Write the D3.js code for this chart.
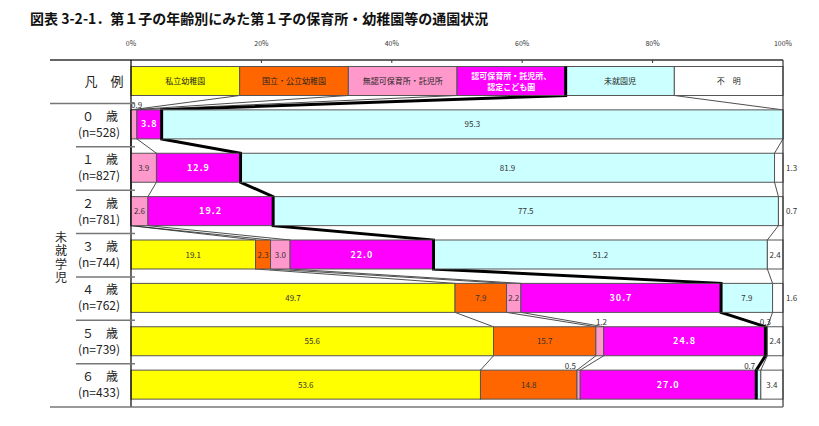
<!DOCTYPE html>
<html>
<head>
<meta charset="utf-8">
<script src="https://cdn.jsdelivr.net/npm/d3@7"></script>
<style>
  body { margin: 0; background: #fff; }
  text { font-family: "Noto Sans CJK JP", "Noto Sans", sans-serif; }
</style>
</head>
<body>
<svg id="chart" width="819" height="426"></svg>
<script>
// categories (legend order)
var categories = ["私立幼稚園", "国立・公立幼稚園", "無認可保育所・託児所", "認可保育所・託児所、認定こども園", "未就園児", "不明"];
var legendLines = [["私立幼稚園"], ["国立・公立幼稚園"], ["無認可保育所・託児所"], ["認可保育所・託児所、", "認定こども園"], ["未就園児"], ["不　明"]];
var colors = ["#ffff00", "#ff6600", "#ff99cc", "#ff00ff", "#ccffff", "#ffffff"];

// rows
var ages = ["０", "１", "２", "３", "４", "５", "６"];
var counts = [528, 827, 781, 744, 762, 739, 433];

// percentages per row, in category order
var pct0 = [0, 0, 0.9, 3.8, 95.3, 0];
var pct1 = [0, 0, 3.9, 12.9, 81.9, 1.3];
var pct2 = [0, 0, 2.6, 19.2, 77.5, 0.7];
var pct3 = [19.1, 2.3, 3.0, 22.0, 51.2, 2.4];
var pct4 = [49.7, 7.9, 2.2, 30.7, 7.9, 1.6];
var pct5 = [55.6, 15.7, 1.2, 24.8, 0.3, 2.4];
var pct6 = [53.6, 14.8, 0.5, 27.0, 0.7, 3.4];
var allPct = [pct0, pct1, pct2, pct3, pct4, pct5, pct6];

var ticks = [0, 20, 40, 60, 80, 100];

var svg = d3.select("#chart");

var x = d3.scaleLinear().domain([0, 100]).range([131, 783]);
var rowKeys = ["legend"].concat(ages);
var y = d3.scaleBand().domain(rowKeys).range([60, 407]).padding(0);
var barOff = 6.5, barH = 29;

// title
svg.append("text")
  .attr("x", 30).attr("y", 24)
  .style("font-size", "14px").style("font-weight", "bold").style("fill", "#111")
  .text("図表 3-2-1．第１子の年齢別にみた第１子の保育所・幼稚園等の通園状況");

// top tick labels
svg.selectAll("text.tick").data(ticks).enter().append("text")
  .attr("class", "tick")
  .attr("x", function(d) { return x(d); })
  .attr("y", 46)
  .attr("text-anchor", "middle")
  .style("font-size", "7px").style("fill", "#333")
  .text(function(d) { return d + "%"; });

// build segments with cumulative positions
function segs(vals) {
  var c = 0;
  return vals.map(function(v, i) {
    var s = { start: c, value: v, cat: i };
    c += v;
    s.end = c;
    return s;
  });
}
var legendSegs = categories.map(function(d, i) { return { start: i * 100 / 6, end: (i + 1) * 100 / 6, value: 100 / 6, cat: i }; });
var rowSegs = allPct.map(segs);
var allRows = [legendSegs].concat(rowSegs);

// connector lines between rows (drawn first so bars sit on top)
var linkG = svg.append("g");
for (var k = 0; k < 5; k++) {
  var pts = [];
  allRows.forEach(function(r, i) {
    var top = y(rowKeys[i]) + barOff;
    pts.push([x(r[k].end), top]);
    pts.push([x(r[k].end), top + barH]);
  });
  linkG.append("path")
    .attr("d", d3.line()(pts))
    .attr("fill", "none")
    .attr("stroke", k == 3 ? "#000" : "#222")
    .attr("stroke-width", k == 3 ? 3 : 0.8);
}

// bars
allRows.forEach(function(r, i) {
  var g = svg.append("g").attr("transform", "translate(0," + (y(rowKeys[i]) + barOff) + ")");
  g.selectAll("rect").data(r.filter(function(d) { return d.value > 0; })).enter().append("rect")
    .attr("x", function(d) { return x(d.start); })
    .attr("width", function(d) { return x(d.end) - x(d.start); })
    .attr("height", barH)
    .attr("fill", function(d) { return colors[d.cat]; })
    .attr("stroke", "#555")
    .attr("stroke-width", 1);
});

// redraw thick boundary over bars
allRows.forEach(function(r, i) {
  var top = y(rowKeys[i]) + barOff;
  var xx = x(r[3].end);
  svg.append("line").attr("x1", xx).attr("x2", xx).attr("y1", top).attr("y2", top + barH)
    .attr("stroke", "#000").attr("stroke-width", 3);
});

// legend text
legendSegs.forEach(function(d, i) {
  var top = y("legend") + barOff;
  var lines = legendLines[i];
  var t = svg.append("text")
    .attr("x", (x(d.start) + x(d.end)) / 2)
    .attr("y", top + barH / 2 - (lines.length - 1) * 5.5 + 3)
    .attr("text-anchor", "middle")
    .style("font-size", "8px")
    .style("fill", i == 3 ? "#fff" : "#222")
    .style("font-weight", i == 3 ? "bold" : "normal");
  lines.forEach(function(l, j) {
    t.append("tspan").attr("x", (x(d.start) + x(d.end)) / 2).attr("dy", j == 0 ? 0 : 11).text(l);
  });
});

// value labels
var smallAnchor = { "0-2": "start", "5-2": "start", "5-4": "middle", "6-2": "end", "6-4": "end" };
rowSegs.forEach(function(r, i) {
  var top = y(rowKeys[i + 1]) + barOff;
  r.forEach(function(d) {
    if (d.value <= 0) return;
    var t = svg.append("text").style("font-size", "8px").style("fill", "#333");
    if (d.value >= 2) {
      t.attr("x", (x(d.start) + x(d.end)) / 2).attr("y", top + barH / 2 + 3).attr("text-anchor", "middle");
      if (d.cat == 3) {
        t.style("fill", "#fff").style("font-weight", "bold").style("font-size", "9px").style("letter-spacing", "1px");
      }
    } else if (d.cat == 5) {
      t.attr("x", x(100) + 3).attr("y", top + barH / 2 + 3).attr("text-anchor", "start");
    } else {
      var a = smallAnchor[i + "-" + d.cat] || "middle";
      var px = a == "end" ? x(d.start) - 1 : x(d.start);
      t.attr("x", px).attr("y", top - 1.5).attr("text-anchor", a);
    }
    t.text(d.value.toFixed(1));
  });
});

// frame lines
svg.append("line").attr("x1", 50).attr("x2", 783).attr("y1", 60).attr("y2", 60).attr("stroke", "#333").attr("stroke-width", 1.5);
svg.selectAll("line.tk").data(ticks.slice(1, 5)).enter().append("line")
  .attr("x1", function(d) { return x(d); }).attr("x2", function(d) { return x(d); })
  .attr("y1", 60).attr("y2", 63).attr("stroke", "#333");
svg.append("line").attr("x1", x(0)).attr("x2", x(0)).attr("y1", 60).attr("y2", 407).attr("stroke", "#000").attr("stroke-width", 1.2);
svg.append("line").attr("x1", x(100)).attr("x2", x(100)).attr("y1", 60).attr("y2", 407).attr("stroke", "#333").attr("stroke-width", 1.2);
svg.append("line").attr("x1", 50).attr("x2", 135).attr("y1", y(ages[0])).attr("y2", y(ages[0])).attr("stroke", "#777").attr("stroke-width", 1.5);
svg.selectAll("line.sep").data(ages.slice(1)).enter().append("line")
  .attr("x1", 76).attr("x2", 135)
  .attr("y1", function(d) { return y(d); }).attr("y2", function(d) { return y(d); })
  .attr("stroke", "#777").attr("stroke-width", 1.5);
svg.append("line").attr("x1", 50).attr("x2", 783).attr("y1", 407).attr("y2", 407).attr("stroke", "#777").attr("stroke-width", 1.5);

// row labels
svg.append("text").attr("x", 104).attr("y", 86).attr("text-anchor", "middle")
  .style("font-size", "13px").style("fill", "#222").text("凡　例");
ages.forEach(function(a, i) {
  var top = y(a) + barOff;
  svg.append("text").attr("x", 100).attr("y", top + 11).attr("text-anchor", "middle")
    .style("font-size", "12px").style("fill", "#222").text(a + "　歳");
  svg.append("text").attr("x", 99).attr("y", top + 27).attr("text-anchor", "middle")
    .style("font-size", "12px").style("fill", "#222").text("(n=" + counts[i] + ")");
});
// vertical group label
svg.append("text")
  .attr("x", 61).attr("y", 231)
  .style("writing-mode", "vertical-rl")
  .style("font-size", "12px").style("letter-spacing", "1.6px").style("fill", "#222")
  .text("未就学児");
</script>
</body>
</html>
